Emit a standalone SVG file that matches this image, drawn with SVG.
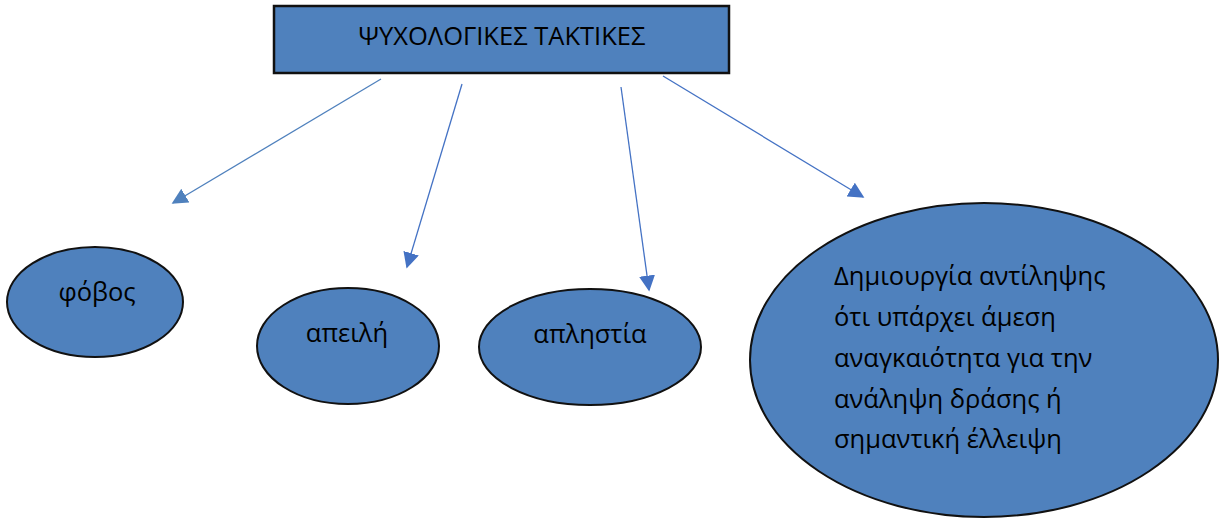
<svg xmlns="http://www.w3.org/2000/svg" width="1220" height="520" viewBox="0 0 1220 520">
<style>
.shape{fill:#4F81BD;stroke:#111;stroke-width:2}
.t{font-family:"Open Sans","Noto Sans",sans-serif;font-size:25.5px;fill:#000}
.c{stroke-width:1.3;fill:none}
</style>
<defs>
<marker id="ah1" viewBox="0 0 10 10" refX="9" refY="5" markerWidth="16" markerHeight="16" markerUnits="userSpaceOnUse" orient="auto"><path d="M0,0 L10,5 L0,10 z" fill="#4F81BD"/></marker>
<marker id="ah2" viewBox="0 0 10 10" refX="9" refY="5" markerWidth="16" markerHeight="16" markerUnits="userSpaceOnUse" orient="auto"><path d="M0,0 L10,5 L0,10 z" fill="#4472C4"/></marker>
</defs>
<rect width="1220" height="520" fill="#fff"/>
<g id="title">
<rect class="shape" x="274" y="6" width="455" height="67" style="stroke-width:2.5"/>
<text class="t" x="502" y="45" text-anchor="middle">ΨΥΧΟΛΟΓΙΚΕΣ ΤΑΚΤΙΚΕΣ</text>
</g>
<g id="connectors">
<line class="c" x1="381" y1="79" x2="173" y2="203" stroke="#4F81BD" marker-end="url(#ah1)"/>
<line class="c" x1="462" y1="84" x2="407" y2="267" stroke="#4472C4" marker-end="url(#ah2)"/>
<line class="c" x1="621" y1="87" x2="649" y2="290" stroke="#4472C4" marker-end="url(#ah2)"/>
<line class="c" x1="663" y1="76" x2="863" y2="197" stroke="#4472C4" marker-end="url(#ah2)"/>
</g>
<g id="fobos">
<ellipse class="shape" cx="95" cy="302" rx="88" ry="55"/>
<text class="t" x="97" y="301" text-anchor="middle">φόβος</text>
</g>
<g id="apeili">
<ellipse class="shape" cx="348" cy="346" rx="91" ry="58"/>
<text class="t" x="347" y="342" text-anchor="middle">απειλή</text>
</g>
<g id="aplistia">
<ellipse class="shape" cx="590" cy="347" rx="111" ry="58"/>
<text class="t" x="590" y="343" text-anchor="middle">απληστία</text>
</g>
<g id="dimiourgia">
<ellipse class="shape" cx="984" cy="360" rx="234" ry="157"/>
<text class="t" x="834" y="285">Δημιουργία αντίληψης</text>
<text class="t" x="834" y="326">ότι υπάρχει άμεση</text>
<text class="t" x="834" y="367">αναγκαιότητα για την</text>
<text class="t" x="834" y="408">ανάληψη δράσης ή</text>
<text class="t" x="834" y="448">σημαντική έλλειψη</text>
</g>
</svg>
